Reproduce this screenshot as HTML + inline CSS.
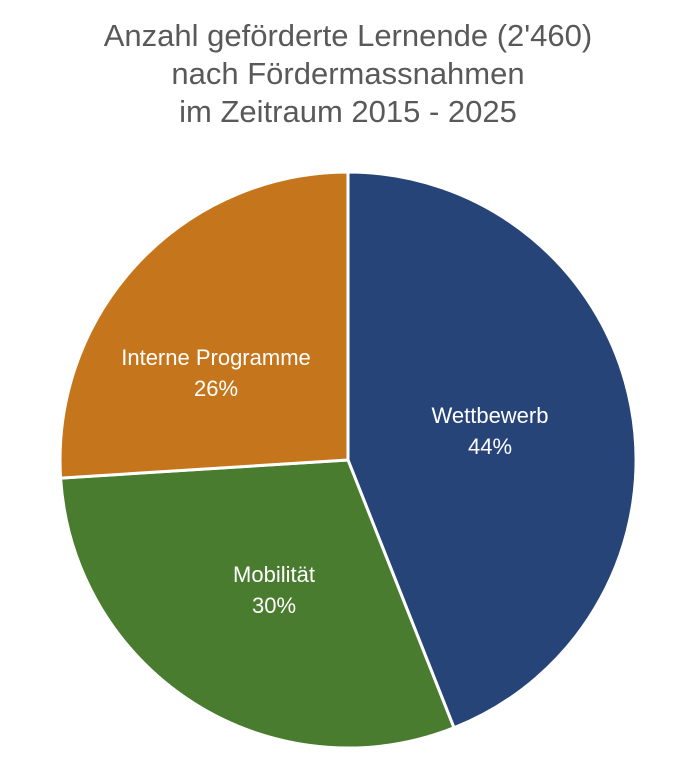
<!DOCTYPE html>
<html><head><meta charset="utf-8"><style>
html,body{margin:0;padding:0;background:#fff;}
svg{display:block;}
</style></head><body>
<svg width="695" height="779" viewBox="0 0 695 779" xmlns="http://www.w3.org/2000/svg">
<rect width="695" height="779" fill="#fff"/>
<g font-family="Liberation Sans, Arial, sans-serif" fill="#595959" font-size="31" text-anchor="middle">
<text x="348" y="46">Anzahl geförderte Lernende (2'460)</text>
<text x="348" y="84">nach Fördermassnahmen</text>
<text x="348" y="122">im Zeitraum 2015 - 2025</text>
</g>
<g stroke="#fff" stroke-width="3" stroke-linejoin="round">
<path d="M348,460 L348,172 A288,288 0 0,1 454.0,727.8 Z" fill="#264478"/>
<path d="M348,460 L454.0,727.8 A288,288 0 0,1 60.6,478.1 Z" fill="#4a7c2f"/>
<path d="M348,460 L60.6,478.1 A288,288 0 0,1 348,172 Z" fill="#c5761c"/>
</g>
<g font-family="Liberation Sans, Arial, sans-serif" fill="#fff" font-size="22" text-anchor="middle">
<text x="490" y="423">Wettbewerb</text>
<text x="490" y="454">44%</text>
<text x="274" y="582">Mobilität</text>
<text x="274" y="613">30%</text>
<text x="216" y="365">Interne Programme</text>
<text x="216" y="396">26%</text>
</g>
</svg>
</body></html>
